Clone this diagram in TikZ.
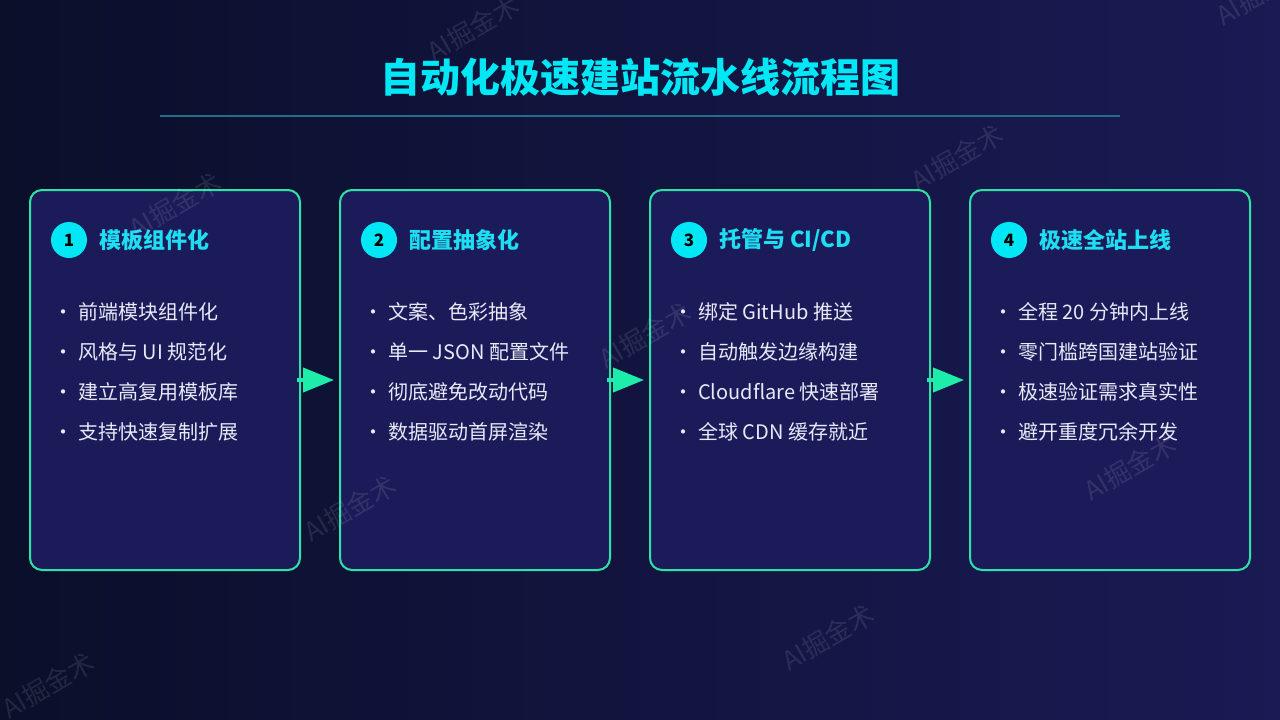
\documentclass[tikz,border=0pt]{standalone}
\usepackage{fontspec}
\setmainfont{Noto Sans CJK SC}
\usetikzlibrary{arrows.meta}
\definecolor{bgL}{RGB}{10,15,42}
\definecolor{bgR}{RGB}{26,26,84}
\definecolor{boxfill}{RGB}{28,27,90}
\definecolor{boxline}{RGB}{44,226,166}
\definecolor{arrowc}{RGB}{30,236,170}
\definecolor{titlec}{RGB}{0,232,245}
\definecolor{headc}{RGB}{30,222,242}
\definecolor{rulec}{RGB}{32,110,140}
\definecolor{textc}{RGB}{232,234,248}
\begin{document}
\begin{tikzpicture}[x=1pt,y=-1pt,
  card/.style={draw=boxline, line width=2pt, fill=boxfill, rounded corners=12pt, inner sep=0pt, minimum height=380pt},
  badge/.style={circle, fill=titlec, minimum size=36pt, inner sep=0pt, font=\fontsize{17}{17}\selectfont\bfseries, text=black},
  head/.style={anchor=west, text=headc, font=\fontsize{22}{22}\selectfont\bfseries, inner sep=0pt},
  item/.style={anchor=west, text=textc, font=\fontsize{20}{20}\selectfont, inner sep=0pt, text height=15pt, text depth=4pt},
  dotmark/.style={anchor=center, text=textc, font=\fontsize{20}{20}\selectfont, inner sep=0pt, text height=15pt, text depth=4pt},
  flow/.style={draw=arrowc, fill=arrowc, line width=4pt, -{Triangle[length=31pt,width=24pt]}},
  wm/.style={rotate=30, text=white, text opacity=0.10, font=\fontsize{26}{26}\selectfont, inner sep=0pt}
]
\useasboundingbox (0,0) rectangle (1280,720);
\clip (0,0) rectangle (1280,720);
\shade[left color=bgL, right color=bgR] (0,0) rectangle (1280,720);

% title
\node[font=\fontsize{40}{40}\selectfont\bfseries, text=titlec, inner sep=0pt] (title) at (640,77) {自动化极速建站流水线流程图};
\coordinate (ruleL) at (160,116);
\coordinate (ruleR) at (1120,116);
\draw[rulec, line width=2pt] (ruleL) -- (ruleR);

% cards
\node[card, minimum width=270pt] (b1) at (165,380) {};
\node[card, minimum width=270pt] (b2) at (475,380) {};
\node[card, minimum width=280pt] (b3) at (790,380) {};
\node[card, minimum width=280pt] (b4) at (1110,380) {};

% card contents
\foreach \b/\n/\h/\i/\j/\k/\l in {
  b1/1/模板组件化/前端模块组件化/风格与 UI 规范化/建立高复用模板库/支持快速复制扩展,
  b2/2/配置抽象化/文案、色彩抽象/单一 JSON 配置文件/彻底避免改动代码/数据驱动首屏渲染,
  b3/3/{托管与 CI/CD}/绑定 GitHub 推送/自动触发边缘构建/Cloudflare 快速部署/全球 CDN 缓存就近,
  b4/4/极速全站上线/全程 20 分钟内上线/零门槛跨国建站验证/极速验证需求真实性/避开重度冗余开发}{
  \node[badge] (\b-badge) at ([xshift=40pt]\b.west |- 0,240) {\n};
  \node[head] (\b-head) at ([xshift=70pt]\b.west |- 0,240) {\h};
  \foreach \t [count=\c] in {\i,\j,\k,\l}{
    \node[dotmark] (\b-dot\c) at ([xshift=34pt]\b.west |- 0,{274+40*\c}) {·};
    \node[item] (\b-item\c) at ([xshift=49pt]\b.west |- 0,{274+40*\c}) {\t};
  }
}

% arrows
\draw[flow] ([xshift=-4pt]b1.east) -- ([xshift=-5pt]b2.west);
\draw[flow] ([xshift=-4pt]b2.east) -- ([xshift=-5pt]b3.west);
\draw[flow] ([xshift=-4pt]b3.east) -- ([xshift=-5pt]b4.west);

% watermarks
\foreach \p [count=\c] in {(175,205),(473,28),(957,157),(645,335),(350,508),(1130,467),(828,637),(48,685),(1262,-8)}{
  \node[wm] (wm\c) at \p {AI掘金术};
}
\end{tikzpicture}
\end{document}
